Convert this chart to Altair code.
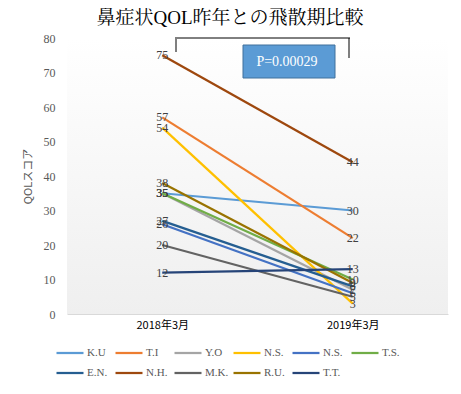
import altair as alt
import pandas as pd

names = ["K.U", "T.I", "Y.O", "N.S.", "N.S. ", "T.S.", "E.N.", "N.H.", "M.K.", "R.U.", "T.T."]
colors = ["#5B9BD5", "#ED7D31", "#A5A5A5", "#FFC000", "#4472C4", "#70AD47",
          "#255E91", "#9E480E", "#636363", "#997300", "#264478"]
periods = ["2018年3月", "2019年3月"]
v2018 = [35, 57, 35, 54, 26, 35, 27, 75, 20, 38, 12]
v2019 = [30, 22, 7, 3, 6, 10, 8, 44, 5, 9, 13]
y_ticks = [0, 10, 20, 30, 40, 50, 60, 70, 80]

rows = []
for i, n in enumerate(names):
    rows.append({"name": n, "period": periods[0], "value": v2018[i], "order": i})
    rows.append({"name": n, "period": periods[1], "value": v2019[i], "order": i})
df = pd.DataFrame(rows)

W, H = 381, 276
serif = "'Liberation Serif', 'Noto Serif CJK JP', 'Noto Sans CJK JP', serif"
sans = "'Noto Sans CJK JP', 'Liberation Sans', sans-serif"

x = alt.X("period:N", scale=alt.Scale(type="point", domain=periods, padding=0.5),
          axis=alt.Axis(title=None, labelAngle=0, tickSize=0, domainColor="#d9d9d9",
                        grid=True, gridColor="#d9d9d9", labelFont=sans, labelFontSize=11,
                        labelColor="#000000", labelPadding=5))
y = alt.Y("value:Q", scale=alt.Scale(domain=[0, 80], nice=False),
          axis=alt.Axis(title="QOLスコア", values=y_ticks, grid=False, domain=False, tickSize=0,
                        labelPadding=12, labelFont=serif, labelFontSize=12, labelColor="#595959",
                        titleFont=sans, titleFontSize=11, titleColor="#595959", titleFontWeight="normal",
                        titlePadding=10))

bg = alt.Chart(pd.DataFrame({"a": [0]})).mark_rect(
    fill=alt.Gradient(gradient="linear", x1=0, x2=0, y1=0, y2=1,
                      stops=[alt.GradientStop(color="#ffffff", offset=0),
                             alt.GradientStop(color="#efefef", offset=1)])
).encode(x=alt.value(0), x2=alt.value(W), y=alt.value(0), y2=alt.value(H))

lines = alt.Chart(df).mark_line(strokeWidth=2.25).encode(
    x=x, y=y,
    color=alt.Color("name:N", scale=alt.Scale(domain=names, range=colors),
                    sort=names,
                    legend=alt.Legend(title=None, orient="none", legendX=-12, legendY=300,
                                      direction="horizontal",
                                      columns=6, symbolType="stroke", symbolSize=729,
                                      symbolStrokeWidth=2.25, labelFont=serif, labelFontSize=11,
                                      labelColor="#595959", labelOffset=2, columnPadding=0,
                                      rowPadding=-1, gridAlign="all")),
    detail="order:O",
)

labels = alt.Chart(df).mark_text(font=serif, fontSize=12, color="#404040",
                                 align="center", baseline="middle").encode(
    x=x, y=y, text="value:Q")

bracket_h = alt.Chart(pd.DataFrame({"a": [0]})).mark_rule(color="#000000", strokeWidth=1).encode(
    x=alt.value(108), x2=alt.value(283), y=alt.value(0))
bracket_l = alt.Chart(pd.DataFrame({"a": [0]})).mark_rule(color="#000000", strokeWidth=1).encode(
    x=alt.value(109), y=alt.value(1), y2=alt.value(14))
bracket_r = alt.Chart(pd.DataFrame({"a": [0]})).mark_rule(color="#000000", strokeWidth=1).encode(
    x=alt.value(282), y=alt.value(0), y2=alt.value(20))

box = alt.Chart(pd.DataFrame({"a": [0]})).mark_rect(fill="#5B9BD5", stroke="#41719C", strokeWidth=1).encode(
    x=alt.value(176), x2=alt.value(268), y=alt.value(7), y2=alt.value(40))
box_text = alt.Chart(pd.DataFrame({"t": ["P=0.00029"]})).mark_text(
    font=serif, fontSize=14, color="#ffffff", align="center", baseline="middle").encode(
    x=alt.value(220), y=alt.value(24), text="t:N")

title = alt.Chart(pd.DataFrame({"t": ["鼻症状QOL昨年との飛散期比較"]})).mark_text(
    font=serif, fontSize=19, color="#000000", align="center", baseline="middle").encode(
    x=alt.value(163), y=alt.value(-20), text="t:N")

chart = alt.layer(bg, lines, labels, bracket_h, bracket_l, bracket_r, box, box_text, title).properties(
    width=W, height=H,
    autosize=alt.AutoSizeParams(type="none"),
    padding={"left": 59, "top": 30, "right": 5, "bottom": 68},
    background="#ffffff",
).configure_view(stroke=None)

chart.save("out.html", embed_options={"renderer": "svg", "actions": False})
